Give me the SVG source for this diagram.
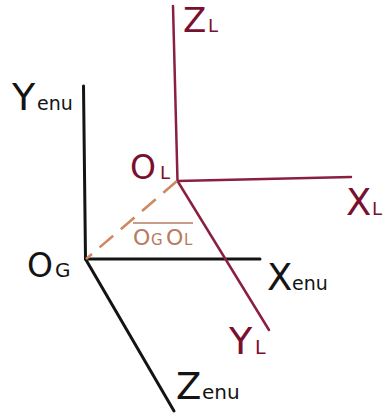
<svg xmlns="http://www.w3.org/2000/svg" width="383" height="416" viewBox="0 0 383 416">
<style>
text{font-family:"DejaVu Sans","Liberation Sans",sans-serif}
.k{fill:#141414}
.r{fill:#7a1030}
.o{fill:#b87a5e}
.bl{stroke:#141414;stroke-width:3;fill:none;stroke-linecap:round}
.rl{stroke:#8a2040;stroke-width:2.5;fill:none;stroke-linecap:round}
.dl{stroke:#d08860;stroke-width:2.6;fill:none;stroke-dasharray:18 10}
</style>
<rect width="383" height="416" fill="#fff"/>
<g id="connectors">
<line class="bl" x1="83.5" y1="86" x2="85.5" y2="259"/>
<line class="bl" x1="85.5" y1="259" x2="260" y2="259"/>
<line class="bl" x1="85.5" y1="259" x2="174" y2="411"/>
<line class="rl" x1="173" y1="6" x2="177.5" y2="181"/>
<line class="rl" x1="177.5" y1="181" x2="351" y2="177"/>
<line class="rl" x1="177.5" y1="181" x2="269" y2="330"/>
<line class="dl" x1="177" y1="181" x2="86" y2="259"/>
</g>
<g id="Yenu"><text class="k" x="12" y="110" font-size="38">Y</text><text class="k" x="37" y="110" font-size="19">enu</text></g>
<g id="OG"><text class="k" x="27" y="277" font-size="33">O</text><text class="k" x="55" y="277" font-size="20">G</text></g>
<g id="Xenu"><text class="k" x="267" y="290" font-size="37">X</text><text class="k" x="292" y="290" font-size="19">enu</text></g>
<g id="Zenu"><text class="k" x="176" y="399" font-size="37">Z</text><text class="k" x="202" y="399" font-size="20">enu</text></g>
<g id="OL"><text class="r" x="130" y="179" font-size="33">O</text><text class="r" x="160" y="179" font-size="18">L</text></g>
<g id="ZL"><text class="r" x="183" y="32" font-size="34">Z</text><text class="r" x="208" y="32" font-size="18">L</text></g>
<g id="XL"><text class="r" x="346" y="215" font-size="37">X</text><text class="r" x="372" y="215" font-size="18">L</text></g>
<g id="YL"><text class="r" x="229" y="354" font-size="38">Y</text><text class="r" x="255" y="354" font-size="19">L</text></g>
<g id="OGOL">
<line x1="133" y1="223" x2="193" y2="223" stroke="#b87a5e" stroke-width="1.5"/>
<text class="o" x="133" y="245" font-size="22">O</text><text class="o" x="151" y="245" font-size="15">G</text><text class="o" x="166" y="245" font-size="22">O</text><text class="o" x="184" y="245" font-size="15">L</text>
</g>
</svg>
